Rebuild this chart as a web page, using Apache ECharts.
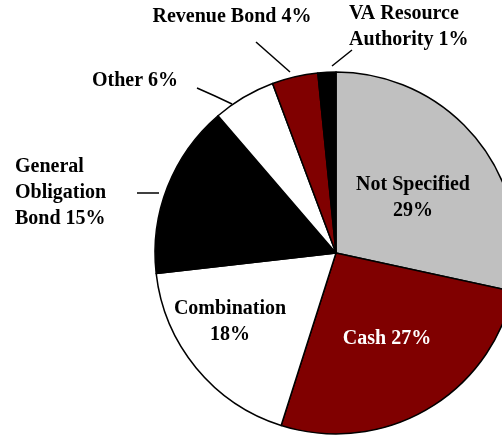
<!DOCTYPE html>
<html>
<head>
<meta charset="utf-8">
<script src="https://cdn.jsdelivr.net/npm/echarts@6/dist/echarts.min.js"></script>
<style>
	html, body { margin: 0; padding: 0; background: #fff; }
	#charts { width: 502px; height: 436px; }
</style>
</head>
<body>
<div id="charts"></div>
<script>
// slice sizes, with the printed percentages
const categories = ['Not Specified', 'Cash', 'Combination', 'General Obligation Bond', 'Other', 'Revenue Bond', 'VA Resource Authority'];
const shares = [28.4, 26.5, 18.3, 15.5, 5.6, 4.1, 1.6];
const printedPct = ['29%', '27%', '18%', '15%', '6%', '4%', '1%'];
const labelTexts = [
	'Not Specified\n29%',
	'Cash 27%',
	'Combination\n18%',
	'General\nObligation\nBond 15%',
	'Other 6%',
	'Revenue Bond 4%',
	'VA Resource\nAuthority 1%'
];
const colors = ['#c0c0c0', '#800000', '#ffffff', '#000000', '#ffffff', '#800000', '#000000'];

// where each label sits (and its leader line, for the small slices)
const labelSpots = [
	{ x: 413, y: 198, align: 'center' },
	{ x: 387, y: 339, align: 'center' },
	{ x: 230, y: 322, align: 'center' },
	{ x: 15, y: 193, align: 'left', line: [[137, 193], [148, 193], [159, 193]] },
	{ x: 135, y: 81, align: 'center', line: [[197, 88], [215, 96], [232, 104]] },
	{ x: 232, y: 17, align: 'center', line: [[256, 42], [273, 57], [290, 72]] },
	{ x: 349, y: 27, align: 'left', line: [[352, 50], [342, 58], [332, 66]] }
];

const myChart = echarts.init(document.getElementById('charts'));

const pieData = categories.map((name, i) => {
	const inside = !labelSpots[i].line;
	return {
		name: name,
		value: shares[i],
		itemStyle: { color: colors[i] },
		label: {
			position: inside ? 'inside' : 'outside',
			color: i === 1 ? '#ffffff' : '#000000',
			align: labelSpots[i].align
		},
		labelLine: { show: !inside }
	};
});

const option = {
	animation: false,
	backgroundColor: '#ffffff',
	series: [
		{
			type: 'pie',
			center: [336, 253],
			radius: [0, 181],
			startAngle: 90,
			clockwise: true,
			data: pieData,
			itemStyle: {
				borderColor: '#000000',
				borderWidth: 1.5
			},
			emphasis: { disabled: true },
			label: {
				show: true,
				fontFamily: '"Liberation Serif", "Times New Roman", serif',
				fontWeight: 'bold',
				fontSize: 20,
				lineHeight: 26,
				formatter: function (params) {
					return labelTexts[params.dataIndex];
				}
			},
			labelLine: {
				show: true,
				lineStyle: { color: '#000000', width: 1.5 }
			},
			labelLayout: function (params) {
				const spot = labelSpots[params.dataIndex];
				const out = {
					x: spot.x,
					y: spot.y,
					align: spot.align,
					verticalAlign: 'middle'
				};
				if (spot.line) {
					out.labelLinePoints = spot.line;
				}
				return out;
			}
		}
	]
};

myChart.setOption(option);
</script>
</body>
</html>
